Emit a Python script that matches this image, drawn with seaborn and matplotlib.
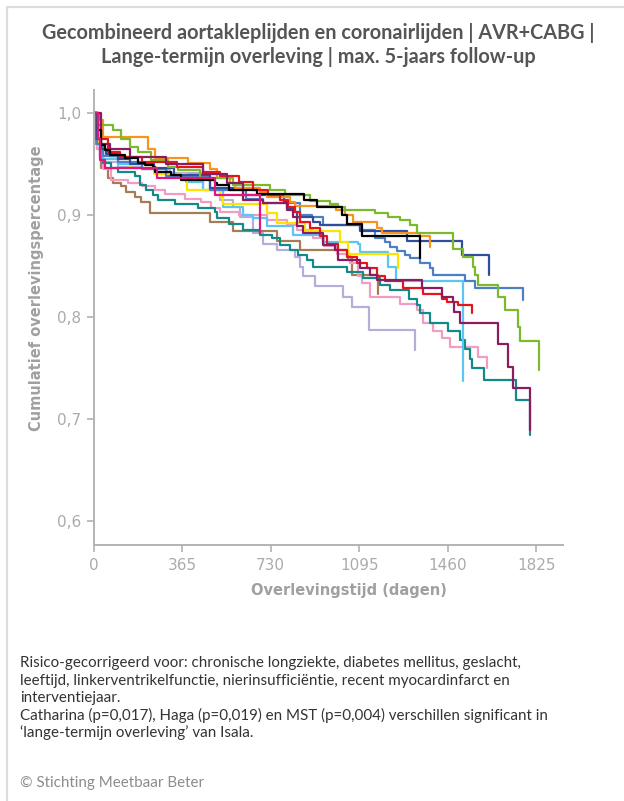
import numpy as np
import pandas as pd
import matplotlib
matplotlib.use("Agg")
import matplotlib.pyplot as plt
from matplotlib.lines import Line2D
import seaborn as sns

# ---- data (days, cumulative survival) ----
days_lavender = [0, 15, 40, 100, 200, 315, 450, 520, 575, 604, 657, 698, 755, 830, 851, 865, 913, 1029, 1065, 1136, 1325]
surv_lavender = [1.0, 0.965, 0.952, 0.947, 0.945, 0.941, 0.925, 0.915, 0.908, 0.898, 0.882, 0.872, 0.866, 0.859, 0.849, 0.84, 0.83, 0.82, 0.81, 0.787, 0.768]

days_brown = [0, 10, 31, 60, 80, 115, 134, 170, 197, 233, 480, 575, 755, 851, 1049, 1065, 1173]
surv_brown = [1.0, 0.97, 0.946, 0.936, 0.931, 0.928, 0.923, 0.918, 0.913, 0.902, 0.893, 0.884, 0.875, 0.866, 0.858, 0.841, 0.823]

days_pink = [0, 15, 40, 72, 142, 200, 253, 295, 377, 443, 484, 521, 600, 714, 797, 838, 904, 950, 1003, 1057, 1090, 1106, 1140, 1263, 1332, 1357, 1399, 1436, 1469, 1585, 1620]
surv_pink = [1.0, 0.965, 0.945, 0.934, 0.931, 0.928, 0.925, 0.921, 0.916, 0.913, 0.907, 0.903, 0.9, 0.895, 0.89, 0.885, 0.877, 0.87, 0.862, 0.853, 0.84, 0.833, 0.82, 0.813, 0.807, 0.794, 0.786, 0.779, 0.771, 0.761, 0.75]

days_teal = [0, 10, 27, 39, 72, 101, 171, 192, 216, 245, 266, 336, 431, 501, 508, 560, 616, 686, 735, 769, 810, 842, 880, 904, 1044, 1111, 1181, 1222, 1298, 1332, 1345, 1386, 1460, 1509, 1530, 1551, 1558, 1611, 1742, 1797]
surv_teal = [1.0, 0.975, 0.956, 0.951, 0.946, 0.942, 0.938, 0.929, 0.925, 0.92, 0.915, 0.911, 0.907, 0.903, 0.897, 0.891, 0.885, 0.88, 0.877, 0.871, 0.866, 0.861, 0.856, 0.849, 0.844, 0.838, 0.831, 0.826, 0.818, 0.812, 0.804, 0.794, 0.786, 0.777, 0.769, 0.759, 0.75, 0.738, 0.719, 0.684]

days_lightblue = [0, 15, 40, 100, 200, 302, 380, 452, 533, 616, 657, 714, 822, 945, 1090, 1098, 1213, 1215, 1246, 1523]
surv_lightblue = [1.0, 0.97, 0.955, 0.95, 0.945, 0.939, 0.932, 0.925, 0.908, 0.9, 0.897, 0.889, 0.88, 0.874, 0.872, 0.864, 0.862, 0.849, 0.835, 0.737]

days_yellow = [0, 20, 68, 150, 250, 384, 521, 533, 714, 755, 871, 1015, 1049, 1255]
surv_yellow = [1.0, 0.97, 0.957, 0.946, 0.94, 0.925, 0.918, 0.911, 0.902, 0.892, 0.884, 0.874, 0.862, 0.848]

days_midblue = [0, 15, 40, 100, 200, 300, 480, 630, 700, 851, 900, 945, 1098, 1160, 1200, 1220, 1250, 1285, 1305, 1345, 1386, 1400, 1530, 1571, 1771]
surv_midblue = [1.0, 0.97, 0.958, 0.952, 0.945, 0.938, 0.925, 0.916, 0.912, 0.9, 0.898, 0.89, 0.885, 0.877, 0.874, 0.869, 0.865, 0.861, 0.858, 0.853, 0.848, 0.841, 0.835, 0.828, 0.817]

days_darkblue = [0, 15, 30, 50, 100, 150, 250, 332, 480, 616, 783, 796, 824, 838, 906, 933, 1100, 1290, 1517, 1631]
surv_darkblue = [1.0, 0.975, 0.965, 0.96, 0.955, 0.95, 0.946, 0.939, 0.926, 0.92, 0.913, 0.907, 0.903, 0.898, 0.893, 0.89, 0.884, 0.875, 0.861, 0.841]

days_orange = [0, 27, 39, 225, 253, 389, 480, 508, 562, 583, 686, 714, 810, 830, 1000, 1036, 1069, 1168, 1188, 1345, 1386]
surv_orange = [1.0, 0.993, 0.976, 0.965, 0.956, 0.951, 0.945, 0.936, 0.931, 0.926, 0.923, 0.918, 0.913, 0.909, 0.905, 0.9, 0.893, 0.887, 0.882, 0.879, 0.869]

days_green = [0, 18, 80, 115, 150, 183, 237, 307, 348, 439, 575, 727, 789, 892, 974, 1007, 1036, 1160, 1213, 1263, 1304, 1332, 1481, 1522, 1564, 1571, 1585, 1667, 1695, 1749, 1757, 1836]
surv_green = [1.0, 0.988, 0.983, 0.975, 0.967, 0.962, 0.954, 0.947, 0.944, 0.936, 0.929, 0.925, 0.92, 0.914, 0.911, 0.908, 0.905, 0.902, 0.898, 0.895, 0.89, 0.882, 0.867, 0.859, 0.849, 0.841, 0.831, 0.82, 0.807, 0.79, 0.776, 0.748]

days_red = [0, 20, 60, 109, 200, 344, 450, 521, 600, 657, 720, 769, 800, 830, 851, 892, 933, 961, 1009, 1044, 1085, 1126, 1168, 1201, 1277, 1359, 1435, 1455, 1503, 1558]
surv_red = [1.0, 0.975, 0.962, 0.957, 0.952, 0.947, 0.942, 0.938, 0.932, 0.925, 0.92, 0.915, 0.908, 0.903, 0.893, 0.887, 0.879, 0.872, 0.866, 0.859, 0.853, 0.848, 0.84, 0.835, 0.828, 0.823, 0.818, 0.815, 0.812, 0.804]

days_maroon = [0, 30, 68, 150, 300, 450, 549, 617, 700, 796, 820, 838, 865, 947, 995, 1009, 1098, 1140, 1167, 1352, 1435, 1482, 1485, 1510, 1668, 1709, 1730, 1798]
surv_maroon = [1.0, 0.97, 0.965, 0.957, 0.95, 0.94, 0.931, 0.915, 0.912, 0.905, 0.898, 0.889, 0.882, 0.871, 0.866, 0.856, 0.848, 0.841, 0.836, 0.828, 0.82, 0.815, 0.805, 0.794, 0.774, 0.751, 0.73, 0.689]

days_black = [0, 18, 31, 46, 68, 128, 183, 212, 245, 253, 319, 360, 501, 508, 560, 674, 867, 920, 1024, 1044, 1106, 1345]
surv_black = [1.0, 0.983, 0.969, 0.964, 0.959, 0.956, 0.951, 0.949, 0.947, 0.942, 0.939, 0.934, 0.931, 0.929, 0.925, 0.921, 0.915, 0.908, 0.9, 0.891, 0.879, 0.858]

days_magenta = [0, 20, 27, 46, 260, 501, 686]
surv_magenta = [1.0, 0.975, 0.954, 0.946, 0.936, 0.92, 0.882]

centres = ["Centrum L", "Centrum B", "Centrum P", "Centrum T", "Centrum LB", "Centrum Y",
           "Centrum MB", "Centrum DB", "Centrum O", "Centrum G", "Centrum R", "Centrum M",
           "Centrum K", "Centrum MG"]
colours = ["#b4aedb", "#a67c57", "#f29cc3", "#13898a", "#5cc6f2", "#ffe300",
           "#4c80c3", "#2f4e9c", "#f7941d", "#7bba2c", "#e3161d", "#8c1c62",
           "#000000", "#e3177b"]
series = [(days_lavender, surv_lavender), (days_brown, surv_brown), (days_pink, surv_pink),
          (days_teal, surv_teal), (days_lightblue, surv_lightblue), (days_yellow, surv_yellow),
          (days_midblue, surv_midblue), (days_darkblue, surv_darkblue), (days_orange, surv_orange),
          (days_green, surv_green), (days_red, surv_red), (days_maroon, surv_maroon),
          (days_black, surv_black), (days_magenta, surv_magenta)]

x_ticks = [0, 365, 730, 1095, 1460, 1825]
y_ticks = [0.6, 0.7, 0.8, 0.9, 1.0]
y_ticklabels = ["0,6", "0,7", "0,8", "0,9", "1,0"]

title = "Gecombineerd aortakleplijden en coronairlijden | AVR+CABG |\nLange-termijn overleving | max. 5-jaars follow-up"
footnote = ["Risico-gecorrigeerd voor: chronische longziekte, diabetes mellitus, geslacht,",
            "leeftijd, linkerventrikelfunctie, nierinsufficiëntie, recent myocardinfarct en",
            "interventiejaar.",
            "Catharina (p=0,017), Haga (p=0,019) en MST (p=0,004) verschillen significant in",
            "\u2018lange-termijn overleving\u2019 van Isala."]
copyright_txt = "© Stichting Meetbaar Beter"

rows = []
for name, (d, s) in zip(centres, series):
    for di, si in zip(d, s):
        rows.append((name, di, si))
df = pd.DataFrame(rows, columns=["centrum", "dag", "overleving"])

sns.set_style("white")
plt.rcParams["font.family"] = ["Lato", "DejaVu Sans"]

W, H = 624, 801
fig = plt.figure(figsize=(W / 100, H / 100), dpi=100)
fig.patch.set_facecolor("white")

left, right, top, bottom = 93.5, 563, 90, 545
ax = fig.add_axes([left / W, 1 - bottom / H, (right - left) / W, (bottom - top) / H])

sns.lineplot(data=df, x="dag", y="overleving", hue="centrum", hue_order=centres,
             palette=dict(zip(centres, colours)), drawstyle="steps-post",
             estimator=None, sort=False, legend=False, linewidth=1.6, ax=ax)

ax.set_xlim(0, (right - left) / 0.2427)
ax.set_ylim(1 - (bottom - 113) / 1020, 1 - (top - 113) / 1020)
ax.set_xticks(x_ticks)
ax.set_xticklabels([str(t) for t in x_ticks])
ax.set_yticks(y_ticks)
ax.set_yticklabels(y_ticklabels)

spine_col = "#b3b3b3"
for side in ["top", "right"]:
    ax.spines[side].set_visible(False)
for side in ["left", "bottom"]:
    ax.spines[side].set_color(spine_col)
    ax.spines[side].set_linewidth(1.4)
ax.tick_params(axis="both", direction="out", length=5, width=1.2, color=spine_col,
               labelcolor="#ababab", labelsize=11, pad=4, left=True, bottom=True)
for lab in ax.get_xticklabels() + ax.get_yticklabels():
    lab.set_family(["DejaVu Sans"])
ax.grid(False)

ax.set_xlabel("Overlevingstijd (dagen)", fontsize=10.5, fontweight="bold", color="#a0a0a0",
              family=["DejaVu Sans"])
ax.set_ylabel("Cumulatief overlevingspercentage", fontsize=10.5, fontweight="bold", color="#a0a0a0",
              family=["DejaVu Sans"])
ax.xaxis.set_label_coords((349 - left) / (right - left), -(590 - bottom) / (bottom - top))
ax.yaxis.set_label_coords(-(left - 37) / (right - left), (bottom - 288) / (bottom - top))
ax.xaxis.label.set_va("center")
ax.yaxis.label.set_va("center")

fig.text(318 / W, 1 - 45 / H, title, ha="center", va="center", fontsize=14.3,
         fontweight="bold", color="#555555", linespacing=1.3)

y0 = 663
for i, line in enumerate(footnote):
    fig.text(20 / W, 1 - (y0 + i * 17.5) / H, line, ha="left", va="center", fontsize=10.9,
             color="#333333")
fig.text(20 / W, 1 - 783 / H, copyright_txt, ha="left", va="center", fontsize=10.9, color="#8c8c8c")

# card border
bx, by = 7 / W, 1 - 7 / H
fig.add_artist(Line2D([bx, bx], [0, by], transform=fig.transFigure, color="#dcdcdc", lw=1.6))
fig.add_artist(Line2D([bx, 1], [by, by], transform=fig.transFigure, color="#dcdcdc", lw=1.6))

fig.savefig("out.png", dpi=100, facecolor="white")
